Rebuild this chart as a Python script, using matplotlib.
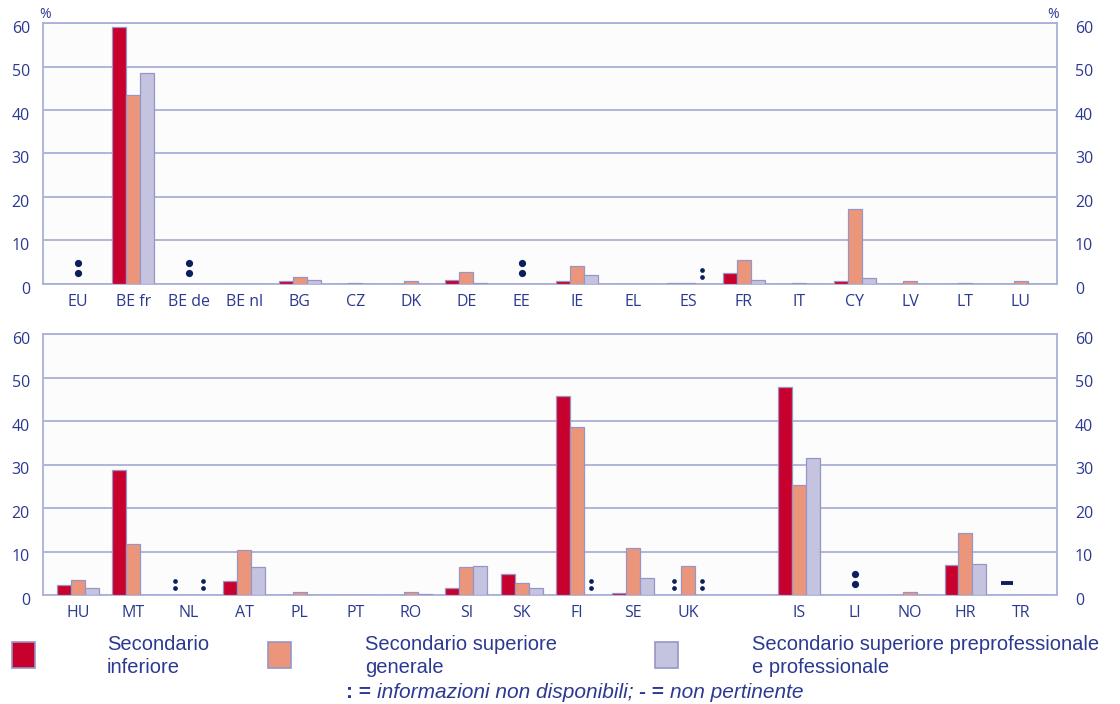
import numpy as np
import matplotlib
matplotlib.use('Agg')
import matplotlib.pyplot as plt
import matplotlib.transforms as mtransforms
from matplotlib.patches import Rectangle

# ---- data (%, ':' = not available, '-' = not applicable, None = empty slot)
top_countries = ['EU', 'BE fr', 'BE de', 'BE nl', 'BG', 'CZ', 'DK', 'DE', 'EE',
                 'IE', 'EL', 'ES', 'FR', 'IT', 'CY', 'LV', 'LT', 'LU']
top_inferiore = [':', 59.0, ':', 0.0, 0.6, 0.1, 0.0, 1.0, ':',
                 0.7, 0.0, 0.2, 2.5, 0.1, 0.6, 0.1, 0.1, 0.0]
top_generale = [':', 43.5, ':', 0.0, 1.5, 0.3, 0.8, 2.8, ':',
                4.2, 0.0, 0.2, 5.5, 0.2, 17.2, 0.6, 0.2, 0.6]
top_profess = [':', 48.5, ':', 0.0, 1.0, 0.1, 0.0, 0.2, ':',
               2.0, 0.0, ':', 1.0, 0.1, 1.4, 0.1, 0.1, 0.1]

bottom_countries = ['HU', 'MT', 'NL', 'AT', 'PL', 'PT', 'RO', 'SI', 'SK',
                    'FI', 'SE', 'UK', '', 'IS', 'LI', 'NO', 'HR', 'TR']
bottom_inferiore = [2.3, 28.7, ':', 3.2, 0.1, 0.0, 0.1, 1.6, 4.9,
                    45.8, 0.4, ':', None, 47.8, ':', 0.1, 7.0, '-']
bottom_generale = [3.5, 11.8, 0.0, 10.3, 0.7, 0.0, 0.7, 6.5, 2.7,
                   38.7, 10.8, 6.6, None, 25.4, ':', 0.8, 14.3, 0.0]
bottom_profess = [1.5, 0.0, ':', 6.4, 0.1, 0.0, 0.3, 6.6, 1.5,
                  ':', 4.0, ':', None, 31.5, ':', 0.0, 7.2, 0.1]

legend_labels = ['Secondario\ninferiore', 'Secondario superiore\ngenerale',
                 'Secondario superiore preprofessionale\ne professionale']
yticks = [0, 10, 20, 30, 40, 50, 60]

# ---- style
colors = ['#C8002D', '#EB967B', '#C4C4E0']
edge = '#9696C6'
grid_col = '#AAB0D8'
navy = '#2B3990'
dot_col = '#0B1F5E'
bw = 0.252

W, H = 1120, 704
fig = plt.figure(figsize=(W / 100, H / 100), dpi=100)
fig.patch.set_facecolor('white')


def px_axes(left, top, right, bottom):
    return fig.add_axes([left / W, 1 - bottom / H, (right - left) / W, (bottom - top) / H])


def draw_panel(ax, labels, series):
    x = np.arange(len(labels))
    for k, vals in enumerate(series):
        h = [v if isinstance(v, float) else np.nan for v in vals]
        ax.bar(x + (k - 1) * bw, h, bw, color=colors[k], edgecolor=edge,
               linewidth=0.9, zorder=3)
    for i in range(len(labels)):
        codes = [s[i] for s in series]
        if all(c == ':' for c in codes):
            ax.plot([i, i], [2.5, 4.8], 'o', color=dot_col, ms=5.2, mew=0, zorder=4)
            continue
        for k, c in enumerate(codes):
            xx = i + (k - 1) * bw
            if c == ':':
                ax.plot([xx, xx], [1.5, 3.2], 'o', color=dot_col, ms=3.4, mew=0, zorder=4)
            elif c == '-':
                ax.plot([xx], [2.7], marker='_', color=dot_col, ms=8, mew=2.8, zorder=4)

    ax.set_xlim(-0.63, 17.65)
    ax.set_ylim(0, 60)
    ax.set_facecolor('#FCFCFC')
    ax.set_yticks(yticks)
    ax.set_xticks(x)
    ax.set_xticklabels(labels, family='Open Sans')
    ax.grid(axis='y', color=grid_col, linewidth=1.3, zorder=0)
    ax.set_axisbelow(True)
    for s in ax.spines.values():
        s.set_color(grid_col)
        s.set_linewidth(1.3)
    ax.tick_params(axis='both', length=0, colors=navy, labelsize=11.5)
    ax.tick_params(axis='y', labelleft=False, labelright=False)
    ax.tick_params(axis='x', pad=7)

    # y labels on both sides, drawn a little below their gridline
    tr = ax.get_yaxis_transform()
    down = mtransforms.ScaledTranslation(0, -4 / 72, fig.dpi_scale_trans)
    for v in yticks:
        left_off = mtransforms.ScaledTranslation(-13 / 100, 0, fig.dpi_scale_trans)
        right_off = mtransforms.ScaledTranslation(18 / 100, 0, fig.dpi_scale_trans)
        ax.text(0, v, str(v), transform=tr + down + left_off, ha='right', va='center',
                color=navy, fontsize=11.5, family='Open Sans')
        ax.text(1, v, str(v), transform=tr + down + right_off, ha='left', va='center',
                color=navy, fontsize=11.5, family='Open Sans')


ax1 = px_axes(43, 23, 1057, 284)
draw_panel(ax1, top_countries, [top_inferiore, top_generale, top_profess])
ax2 = px_axes(43, 334, 1057, 595)
draw_panel(ax2, bottom_countries, [bottom_inferiore, bottom_generale, bottom_profess])

fig.text(45 / W, 1 - 14 / H, '%', color=navy, fontsize=10, ha='center', va='center',
         family='Open Sans')
fig.text(1053 / W, 1 - 14 / H, '%', color=navy, fontsize=10, ha='center', va='center',
         family='Open Sans')

# legend
sq_x = [12, 268, 655]
txt_x = [107, 365, 752]
for k in range(3):
    fig.patches.append(Rectangle((sq_x[k] / W, 1 - 668 / H), 23 / W, 26 / H,
                                 transform=fig.transFigure, facecolor=colors[k],
                                 edgecolor=edge, linewidth=1.2))
    fig.text(txt_x[k] / W, 1 - 656 / H, legend_labels[k], color=navy, fontsize=14.5,
             family='Liberation Sans', ha='left', va='center', linespacing=1.3)

# note line
renderer = fig.canvas.get_renderer()
parts = [(': = ', 'bold', 'normal'), ('informazioni non disponibili; ', 'normal', 'italic'),
         ('- = ', 'bold', 'normal'), ('non pertinente', 'normal', 'italic')]
texts = []
for s, w, st in parts:
    texts.append(fig.text(0, 1 - 692 / H, s, color=navy, fontsize=15, weight=w, style=st,
                          family='Liberation Sans', ha='left', va='center'))
widths = [t.get_window_extent(renderer).width for t in texts]
x0 = 575 - sum(widths) / 2
for t, w in zip(texts, widths):
    t.set_x(x0 / W)
    x0 += w

fig.savefig('out.png', dpi=100, facecolor='white')
